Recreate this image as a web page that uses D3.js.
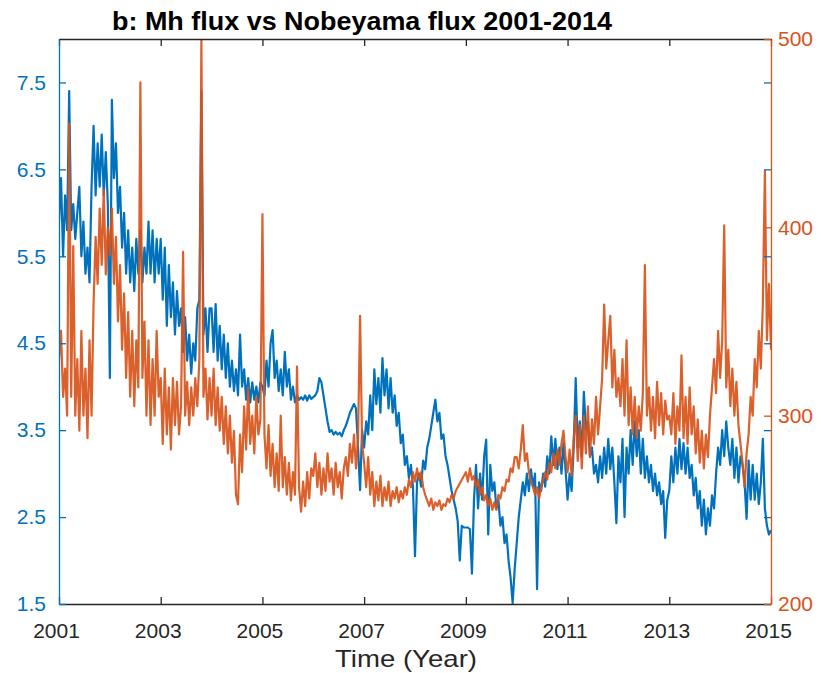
<!DOCTYPE html>
<html>
<head>
<meta charset="utf-8">
<script src="https://cdn.jsdelivr.net/npm/d3@7"></script>
<style>
  body { margin: 0; background: #fff; }
  svg { display: block; }
  text { font-family: "Liberation Sans", Arial, Helvetica, sans-serif; }
</style>
</head>
<body>
<svg id="chart" width="821" height="673"></svg>
<script>
// Sampling of both series: one value every 0.04 year from 2001.0 to 2015.0
const sampleStart = 2001;
const sampleStep = 0.04;

const yearTicks = [2001, 2003, 2005, 2007, 2009, 2011, 2013, 2015];
const mhTicks = [1.5, 2.5, 3.5, 4.5, 5.5, 6.5, 7.5];
const nobeyamaTicks = [200, 300, 400, 500];

// Mh flux (left axis), 25 values per year
const mhFlux = [
  5.9, 6.4, 5.5, 6.2, 5.8, 7.4, 5.8, 6.1, 5.7, 6.0, 6.3, 5.5, 5.9, 5.3, 5.6, 5.2, 6.3, 7.0, 6.2, 6.8, 6.3, 6.9, 6.2, 6.7, 6.1, // 2001
  4.1, 7.3, 6.4, 6.8, 6.0, 6.3, 5.6, 6.0, 5.3, 5.8, 5.2, 5.6, 5.1, 5.7, 5.3, 5.8, 5.2, 5.6, 5.3, 5.9, 5.3, 5.8, 5.2, 5.7, 5.3, // 2002
  5.7, 5.0, 5.6, 4.7, 5.4, 4.8, 5.2, 4.6, 5.1, 4.7, 4.9, 4.4, 4.8, 4.3, 4.6, 4.15, 4.5, 4.3, 4.9, 5.0, 7.4, 4.6, 4.9, 4.4, 4.9, // 2003
  4.9, 4.4, 4.95, 4.3, 4.7, 4.2, 4.6, 4.1, 4.5, 4.0, 4.3, 3.95, 4.2, 3.9, 4.6, 4.0, 4.2, 3.85, 4.1, 3.82, 4.05, 3.85, 4.0, 3.82, 4.05, // 2004
  4.0, 3.9, 4.3, 4.0, 4.5, 4.65, 4.1, 4.3, 3.95, 4.2, 3.9, 4.4, 4.0, 4.2, 3.85, 4.0, 3.82, 3.9, 3.85, 3.88, 3.85, 3.9, 3.84, 3.9, 3.86, // 2005
  3.88, 3.9, 3.95, 4.1, 4.05, 3.9, 3.75, 3.6, 3.48, 3.5, 3.45, 3.48, 3.45, 3.47, 3.43, 3.5, 3.55, 3.62, 3.7, 3.75, 3.8, 3.75, 3.3, 2.81, 3.5, // 2006
  3.3, 3.6, 3.45, 3.9, 3.5, 4.2, 3.8, 4.1, 3.7, 4.33, 3.9, 4.2, 3.75, 4.1, 3.7, 3.9, 3.55, 3.7, 3.35, 3.45, 3.1, 3.2, 2.95, 3.1, 2.85, // 2007
  2.05, 2.9, 3.0, 2.85, 3.15, 3.05, 3.3, 3.4, 3.55, 3.7, 3.85, 3.6, 3.7, 3.4, 3.45, 3.2, 3.1, 2.95, 2.8, 2.7, 2.6, 2.45, 2.0, 2.4, 2.38, // 2008
  2.38, 2.38, 2.36, 1.85, 2.7, 3.1, 2.6, 3.0, 2.7, 3.2, 3.39, 2.3, 3.1, 2.8, 2.9, 2.6, 2.7, 2.4, 2.5, 2.2, 2.3, 2.0, 1.8, 1.51, 1.9, // 2009
  2.2, 2.5, 2.7, 2.9, 2.75, 3.0, 2.8, 3.05, 2.85, 3.0, 1.67, 2.9, 2.8, 3.0, 2.85, 3.2, 3.0, 3.43, 3.1, 3.4, 3.05, 3.3, 3.0, 3.35, 3.05, // 2010
  2.7, 3.0, 2.8, 3.3, 4.1, 3.3, 3.6, 3.2, 3.94, 3.5, 3.6, 3.2, 3.3, 3.0, 3.1, 2.9, 3.2, 2.95, 3.3, 3.0, 3.4, 3.05, 3.3, 2.9, 2.43, // 2011
  3.2, 2.9, 3.4, 2.5, 3.3, 3.0, 3.5, 3.1, 3.6, 3.2, 3.5, 3.0, 3.4, 2.95, 3.2, 2.9, 3.1, 2.8, 3.0, 2.75, 2.9, 2.65, 2.8, 2.26, 2.7, // 2012
  2.8, 3.2, 2.9, 3.3, 3.0, 3.4, 3.05, 3.35, 3.0, 3.3, 2.95, 3.1, 2.75, 2.95, 2.6, 2.8, 2.4, 2.7, 2.3, 2.6, 2.4, 2.75, 2.6, 3.0, 3.3, // 2013
  3.1, 3.5, 3.2, 3.6, 3.3, 3.1, 3.4, 2.95, 3.3, 2.9, 3.2, 3.1, 2.9, 2.48, 3.15, 2.7, 3.1, 2.7, 3.0, 2.65, 2.9, 3.4, 2.6, 2.4, 2.3, // 2014
  2.35 // 2015.0
];

// Nobeyama flux (right axis), 25 values per year
const nobeyamaFlux = [
  330, 345, 310, 325, 300, 455, 310, 390, 300, 330, 292, 345, 300, 325, 288, 340, 300, 360, 395, 370, 410, 380, 420, 375, 400, // 2001
  385, 410, 370, 395, 350, 380, 335, 365, 320, 355, 310, 345, 305, 340, 315, 477, 320, 350, 300, 340, 295, 330, 300, 345, 310, // 2002
  320, 285, 325, 290, 315, 282, 320, 295, 318, 290, 305, 387, 300, 318, 295, 315, 300, 320, 305, 330, 500, 310, 325, 298, 320, // 2003
  300, 325, 295, 315, 292, 310, 285, 305, 280, 300, 275, 292, 258, 253, 290, 270, 305, 282, 315, 285, 300, 280, 310, 290, 298, // 2004
  407, 290, 272, 295, 268, 285, 262, 280, 260, 300, 262, 278, 258, 275, 255, 270, 258, 326, 262, 249, 265, 252, 270, 256, 272, // 2005
  268, 280, 262, 275, 258, 272, 260, 280, 265, 272, 258, 275, 262, 270, 256, 272, 278, 268, 285, 275, 290, 272, 288, 353, 285, // 2006
  275, 262, 278, 258, 270, 252, 265, 255, 268, 252, 262, 255, 265, 252, 260, 256, 262, 254, 260, 256, 262, 258, 266, 262, 270, // 2007
  265, 272, 266, 270, 262, 258, 255, 252, 256, 250, 254, 252, 255, 250, 253, 252, 256, 254, 258, 256, 260, 262, 264, 266, 268, // 2008
  270, 265, 272, 266, 268, 262, 266, 258, 262, 255, 258, 252, 256, 250, 254, 250, 258, 256, 262, 260, 266, 265, 272, 270, 278, // 2009
  278, 272, 282, 295, 276, 280, 270, 265, 262, 258, 262, 256, 262, 266, 270, 266, 275, 270, 280, 272, 282, 274, 285, 292, 278, // 2010
  270, 282, 268, 288, 300, 276, 295, 272, 300, 280, 305, 278, 298, 285, 310, 290, 305, 320, 359, 325, 340, 353, 315, 335, 310, // 2011
  320, 305, 330, 300, 340, 295, 315, 290, 310, 288, 305, 292, 312, 380, 300, 315, 292, 310, 288, 318, 295, 312, 290, 308, 298, // 2012
  300, 290, 312, 285, 305, 292, 332, 288, 310, 285, 315, 290, 305, 280, 298, 275, 292, 272, 290, 278, 300, 315, 330, 312, 345, // 2013
  320, 340, 401, 315, 335, 305, 325, 300, 318, 295, 285, 275, 262, 280, 290, 310, 300, 330, 315, 345, 325, 360, 430, 340, 370, // 2014
  335 // 2015.0
];

const blue = "#0072BD";
const orange = "#D95319";
const dark = "#262626";

const svg = d3.select("#chart");
const plot = { left: 59, right: 771, top: 39, bottom: 604 };

const x = d3.scaleLinear().domain([2001, 2015]).range([plot.left, plot.right]);
const yMh = d3.scaleLinear().domain([1.5, 8]).range([plot.bottom, plot.top]);
const yNob = d3.scaleLinear().domain([200, 500]).range([plot.bottom, plot.top]);

const timeAt = i => sampleStart + i * sampleStep;

svg.append("clipPath").attr("id", "plot-clip")
  .append("rect")
  .attr("x", plot.left).attr("y", plot.top)
  .attr("width", plot.right - plot.left).attr("height", plot.bottom - plot.top);

const data = svg.append("g").attr("clip-path", "url(#plot-clip)");

data.append("path")
  .datum(mhFlux)
  .attr("fill", "none")
  .attr("stroke", blue)
  .attr("stroke-width", 2.2)
  .attr("stroke-linejoin", "round")
  .attr("d", d3.line().x((d, i) => x(timeAt(i))).y(d => yMh(d)));

data.append("path")
  .datum(nobeyamaFlux)
  .attr("fill", "none")
  .attr("stroke", orange)
  .attr("stroke-opacity", 0.92)
  .attr("stroke-width", 2.2)
  .attr("stroke-linejoin", "round")
  .attr("d", d3.line().x((d, i) => x(timeAt(i))).y(d => yNob(d)));

// Bottom axis with year labels
const xAxis = svg.append("g")
  .attr("transform", `translate(0,${plot.bottom})`)
  .call(d3.axisBottom(x).tickValues(yearTicks).tickFormat(d3.format("d"))
    .tickSize(-7).tickSizeOuter(0).tickPadding(19));
xAxis.selectAll("text").attr("fill", dark).attr("font-size", 21).attr("dx", -3);

// Top border with ticks
svg.append("g")
  .attr("transform", `translate(0,${plot.top})`)
  .call(d3.axisTop(x).tickValues(yearTicks).tickFormat("").tickSize(-7).tickSizeOuter(0));

svg.selectAll("g").filter(function () { return this.parentNode === svg.node(); })
  .selectAll(".domain, .tick line")
  .attr("stroke", dark).attr("stroke-width", 1.3);

// Left axis (Mh flux)
const leftAxis = svg.append("g")
  .attr("transform", `translate(${plot.left},0)`)
  .call(d3.axisLeft(yMh).tickValues(mhTicks).tickFormat(d3.format(".1f"))
    .tickSize(-7).tickSizeOuter(0).tickPadding(13));
leftAxis.selectAll(".domain, .tick line").attr("stroke", blue).attr("stroke-width", 1.3);
leftAxis.selectAll("text").attr("fill", blue).attr("font-size", 21);

// Mirrored Mh ticks on the right edge
const leftMirror = svg.append("g")
  .attr("transform", `translate(${plot.right},0)`)
  .call(d3.axisLeft(yMh).tickValues(mhTicks).tickFormat("").tickSize(7).tickSizeOuter(0));
leftMirror.select(".domain").remove();
leftMirror.selectAll(".tick line").attr("stroke", blue).attr("stroke-width", 1.3);

// Right axis (Nobeyama flux)
const rightAxis = svg.append("g")
  .attr("transform", `translate(${plot.right},0)`)
  .call(d3.axisRight(yNob).tickValues(nobeyamaTicks).tickFormat(d3.format("d"))
    .tickSize(-7).tickSizeOuter(0).tickPadding(7));
rightAxis.selectAll(".domain, .tick line").attr("stroke", orange).attr("stroke-width", 1.3);
rightAxis.selectAll("text").attr("fill", orange).attr("font-size", 21);

// Title and axis label
svg.append("text")
  .attr("x", 362).attr("y", 30)
  .attr("text-anchor", "middle")
  .attr("font-size", 26).attr("font-weight", "bold").attr("fill", "#000")
  .attr("textLength", 500).attr("lengthAdjust", "spacingAndGlyphs")
  .text("b: Mh flux vs Nobeyama flux 2001-2014");

svg.append("text")
  .attr("x", 406).attr("y", 667)
  .attr("text-anchor", "middle")
  .attr("font-size", 24).attr("fill", dark)
  .attr("textLength", 142).attr("lengthAdjust", "spacingAndGlyphs")
  .text("Time (Year)");
</script>
</body>
</html>
